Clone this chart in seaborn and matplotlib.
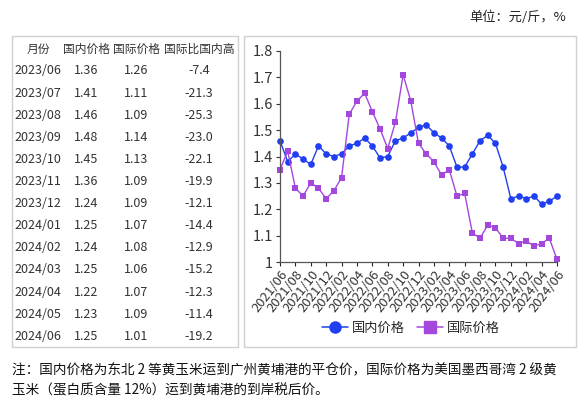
import matplotlib
matplotlib.use("Agg")
import matplotlib.pyplot as plt
import seaborn as sns
import pandas as pd
from matplotlib.patches import Rectangle
from matplotlib.ticker import FuncFormatter
from matplotlib.lines import Line2D

sns.set_theme(style="white")
plt.rcParams['font.family'] = ['Noto Sans CJK SC', 'DejaVu Sans']

months = ["2021/06", "2021/07", "2021/08", "2021/09", "2021/10", "2021/11", "2021/12",
          "2022/01", "2022/02", "2022/03", "2022/04", "2022/05", "2022/06", "2022/07",
          "2022/08", "2022/09", "2022/10", "2022/11", "2022/12",
          "2023/01", "2023/02", "2023/03", "2023/04", "2023/05", "2023/06", "2023/07",
          "2023/08", "2023/09", "2023/10", "2023/11", "2023/12",
          "2024/01", "2024/02", "2024/03", "2024/04", "2024/05", "2024/06"]
domestic = [1.46, 1.38, 1.41, 1.39, 1.37, 1.44, 1.41,
            1.40, 1.41, 1.44, 1.45, 1.47, 1.44, 1.395,
            1.40, 1.46, 1.47, 1.49, 1.51,
            1.52, 1.49, 1.47, 1.44, 1.36, 1.36, 1.41,
            1.46, 1.48, 1.45, 1.36, 1.24,
            1.25, 1.24, 1.25, 1.22, 1.23, 1.25]
international = [1.35, 1.42, 1.28, 1.25, 1.30, 1.28, 1.24,
                 1.27, 1.32, 1.56, 1.61, 1.64, 1.57, 1.505,
                 1.43, 1.53, 1.71, 1.61, 1.45,
                 1.41, 1.38, 1.33, 1.35, 1.25, 1.26, 1.11,
                 1.09, 1.14, 1.13, 1.09, 1.09,
                 1.07, 1.08, 1.06, 1.07, 1.09, 1.01]

table_header = ["月份", "国内价格", "国际价格", "国际比国内高"]
table_months = ["2023/06", "2023/07", "2023/08", "2023/09", "2023/10", "2023/11", "2023/12",
                "2024/01", "2024/02", "2024/03", "2024/04", "2024/05", "2024/06"]
table_dom = ["1.36", "1.41", "1.46", "1.48", "1.45", "1.36", "1.24",
             "1.25", "1.24", "1.25", "1.22", "1.23", "1.25"]
table_int = ["1.26", "1.11", "1.09", "1.14", "1.13", "1.09", "1.09",
             "1.07", "1.08", "1.06", "1.07", "1.09", "1.01"]
table_diff = ["-7.4", "-21.3", "-25.3", "-23.0", "-22.1", "-19.9", "-12.1",
              "-14.4", "-12.9", "-15.2", "-12.3", "-11.4", "-19.2"]

W, H = 584, 400
fig = plt.figure(figsize=(W / 100, H / 100), dpi=100)

def fx(x):
    return x / W

def fy(y):
    return 1 - y / H

# boxes
for (x0, x1) in [(12, 238), (244, 576)]:
    fig.patches.append(Rectangle((fx(x0), fy(347)), fx(x1 - x0), (347 - 36) / H,
                                 transform=fig.transFigure, fill=False,
                                 edgecolor="#d0d0d0", linewidth=1.0))

# unit text
fig.text(fx(566), fy(17), "单位：元/斤，%", ha="right", va="center", fontsize=9.5, color="#222222")

# table
col_x = [38, 86, 136, 199]
txt_color = "#333333"
for i in range(4):
    fig.text(fx(col_x[i]), fy(49), table_header[i], ha="center", va="center", fontsize=8.5, color=txt_color)
for r in range(len(table_months)):
    y = 71 + r * 22.1
    fig.text(fx(14), fy(y), table_months[r], ha="left", va="center", fontsize=9, color=txt_color)
    fig.text(fx(col_x[1]), fy(y), table_dom[r], ha="center", va="center", fontsize=9, color=txt_color)
    fig.text(fx(col_x[2]), fy(y), table_int[r], ha="center", va="center", fontsize=9, color=txt_color)
    fig.text(fx(col_x[3]), fy(y), table_diff[r], ha="center", va="center", fontsize=9, color=txt_color)

# chart
ax = fig.add_axes([fx(280), fy(262), fx(557 - 280), (262 - 51) / H])
df = pd.DataFrame({"month": months * 2,
                   "price": domestic + international,
                   "series": ["国内价格"] * len(months) + ["国际价格"] * len(months)})
df["idx"] = list(range(len(months))) * 2
blue = "#1f3ff0"
purple = "#a447dc"
sns.lineplot(data=df, x="idx", y="price", hue="series", style="series",
             palette={"国内价格": blue, "国际价格": purple},
             markers={"国内价格": "o", "国际价格": "s"}, dashes=False,
             markersize=4.8, markeredgewidth=0, linewidth=1.0, ax=ax, legend=False)
for ln in ax.lines:
    ln.set_clip_on(False)

ax.set_xlim(0, len(months) - 1)
ax.set_ylim(1.0, 1.8)
ax.set_yticks([1.0, 1.1, 1.2, 1.3, 1.4, 1.5, 1.6, 1.7, 1.8])
ax.yaxis.set_major_formatter(FuncFormatter(lambda v, p: f"{v:g}"))
ax.set_xticks(range(0, len(months), 2))
ax.set_xticklabels(months[::2], rotation=52, ha="right", rotation_mode="anchor", fontsize=9.5, color="#333333")
ax.tick_params(axis="y", labelsize=10.5, colors="#333333", length=3, width=0.8, direction="out", left=True, pad=2)
ax.tick_params(axis="x", length=3, width=0.8, direction="out", bottom=True, pad=1)
ax.set_xlabel("")
ax.set_ylabel("")
for s in ["top", "right"]:
    ax.spines[s].set_visible(False)
for s in ["left", "bottom"]:
    ax.spines[s].set_color("#555555")
    ax.spines[s].set_linewidth(0.9)

handles = [Line2D([0], [0], color=blue, marker="o", markersize=8, linewidth=1.1),
           Line2D([0], [0], color=purple, marker="s", markersize=8, linewidth=1.1)]
fig.legend(handles, ["国内价格", "国际价格"], loc="center", bbox_to_anchor=(fx(411), fy(328)),
           ncol=2, frameon=False, fontsize=9.5, handlelength=2.0, columnspacing=0.9, handletextpad=0.3)

# note
fig.text(fx(12), fy(370), "注：国内价格为东北 2 等黄玉米运到广州黄埔港的平仓价，国际价格为美国墨西哥湾 2 级黄",
         ha="left", va="center", fontsize=9.8, color="#111111")
fig.text(fx(12), fy(390), "玉米（蛋白质含量 12%）运到黄埔港的到岸税后价。",
         ha="left", va="center", fontsize=9.8, color="#111111")

fig.savefig("out.png", dpi=100)
